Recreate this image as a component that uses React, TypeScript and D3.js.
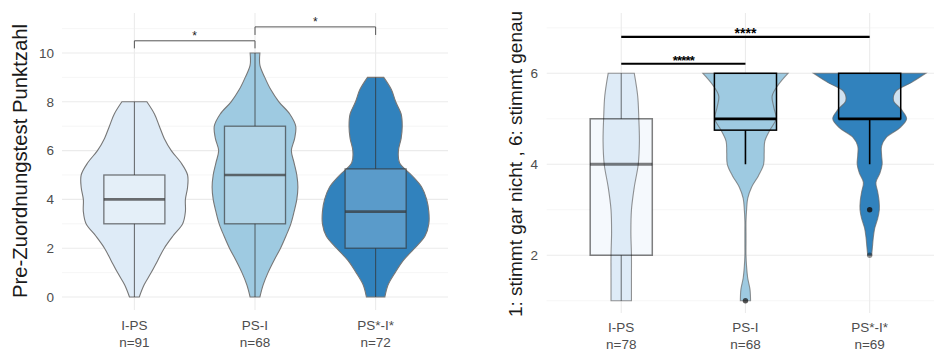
import React from "react";
import * as d3 from "d3";

const categories = ["I-PS", "PS-I", "PS*-I*"];
const fills = ["#deebf7", "#9ecae1", "#3182bd"];

// left panel: Pre-Zuordnungstest Punktzahl
const leftN = [91, 68, 72];
const leftMin = [0, 0, 0];
const leftQ1 = [3, 3, 2];
const leftMedian = [4, 5, 3.5];
const leftQ3 = [5, 7, 5.25];
const leftMax = [8, 10, 9];
const leftTicks = [0, 2, 4, 6, 8, 10];
const leftMinor = [1, 3, 5, 7, 9, 11];
// relative density, sampled every leftStep from min to max
const leftStep = [0.5, 0.5, 0.5];
const leftDensity = [
  [0.09, 0.18, 0.31, 0.43, 0.55, 0.71, 0.89, 0.94, 0.94, 0.98, 0.98, 0.86, 0.68, 0.55, 0.46, 0.37, 0.23],
  [0.09, 0.15, 0.24, 0.35, 0.47, 0.57, 0.66, 0.72, 0.77, 0.79, 0.77, 0.72, 0.67, 0.73, 0.75, 0.64, 0.44, 0.29, 0.18, 0.09, 0.09],
  [0.17, 0.23, 0.36, 0.51, 0.72, 0.91, 0.98, 0.98, 0.94, 0.85, 0.66, 0.44, 0.42, 0.47, 0.49, 0.47, 0.37, 0.29, 0.15],
];
const leftSig = [
  { from: 0, to: 1, label: "*" },
  { from: 1, to: 2, label: "*" },
];

// right panel: 1 .. 6 Likert
const rightN = [78, 68, 69];
const rightMin = [1, 4, 4];
const rightQ1 = [2, 4.75, 5];
const rightMedian = [4, 5, 5];
const rightQ3 = [5, 6, 6];
const rightMax = [6, 6, 6];
const rightViolinLo = [1, 1, 2];
const rightOutliers = [[], [1], [3, 2]];
const rightOutlierCount = [[], [2], [3, 1]];
const rightTicks = [2, 4, 6];
const rightMinor = [1, 3, 5, 7];
const rightStep = [0.5, 0.25, 0.2];
const rightDensity = [
  [0.18, 0.18, 0.18, 0.17, 0.18, 0.23, 0.3, 0.32, 0.31, 0.29, 0.23],
  [0.09, 0.08, 0.04, 0.02, 0.01, 0.01, 0.01, 0.01, 0.02, 0.04, 0.11, 0.23, 0.32, 0.33, 0.34, 0.43, 0.54, 0.5, 0.47, 0.58, 0.75],
  [0.035, 0.05, 0.065, 0.09, 0.14, 0.17, 0.165, 0.14, 0.11, 0.18, 0.22, 0.21, 0.21, 0.3, 0.53, 0.65, 0.56, 0.42, 0.46, 0.74, 0.99],
];
const rightSig = [
  { from: 0, to: 2, label: "****" },
  { from: 0, to: 1, label: "*****" },
];

const font = "'Liberation Sans', Arial, sans-serif";
const tickColor = "#4d4d4d";

function violin(dens: number[], lo: number, step: number, cx: number, y: any, w: any) {
  return d3
    .area<number>()
    .curve(d3.curveCatmullRom)
    .y((_, i) => y(lo + i * step))
    .x0((d) => cx - w(d))
    .x1((d) => cx + w(d))(dens) as string;
}

function Grid({ x, y, ticks, minor, left, right, top, bottom }: any) {
  return (
    <g>
      {minor.map((t: number) => (
        <line key={"m" + t} x1={left} x2={right} y1={y(t)} y2={y(t)} stroke="#f2f2f2" strokeWidth={0.7} />
      ))}
      {ticks.map((t: number) => (
        <line key={"t" + t} x1={left} x2={right} y1={y(t)} y2={y(t)} stroke="#ebebeb" strokeWidth={1.1} />
      ))}
      {categories.map((c) => (
        <line key={c} x1={x(c)} x2={x(c)} y1={top} y2={bottom} stroke="#ebebeb" strokeWidth={1.1} />
      ))}
    </g>
  );
}

function XLabels({ x, n, base }: any) {
  return (
    <g fontFamily={font} fontSize={13.5} fill={tickColor} textAnchor="middle">
      {categories.map((c, i) => (
        <text key={c} x={x(c)} y={base}>
          <tspan x={x(c)}>{c}</tspan>
          <tspan x={x(c)} dy={16.5}>{"n=" + n[i]}</tspan>
        </text>
      ))}
    </g>
  );
}

function LeftPanel() {
  const x = d3.scalePoint().domain(categories).range([62, 448]).padding(0.6);
  const y = d3.scaleLinear().domain([0, 10]).range([297, 53]);
  const step = x.step();
  const w = d3.scaleLinear().domain([0, 1]).range([0, step * 0.45]);
  const bw = step * 0.253;
  return (
    <g>
      <Grid x={x} y={y} ticks={leftTicks} minor={leftMinor} left={62} right={448} top={13} bottom={310} />
      {categories.map((c, i) => {
        const cx = x(c) as number;
        return (
          <g key={c}>
            <path d={violin(leftDensity[i], leftMin[i], leftStep[i], cx, y, w)} fill={fills[i]} stroke="#777" strokeWidth={1.1} />
            <line x1={cx} x2={cx} y1={y(leftQ3[i])} y2={y(leftMax[i])} stroke="#333" strokeOpacity={0.75} />
            <line x1={cx} x2={cx} y1={y(leftQ1[i])} y2={y(leftMin[i])} stroke="#333" strokeOpacity={0.75} />
            <rect x={cx - bw} width={bw * 2} y={y(leftQ3[i])} height={y(leftQ1[i]) - y(leftQ3[i])} fill="#fff" fillOpacity={0.2} stroke="#333" strokeOpacity={0.65} strokeWidth={1.3} />
            <line x1={cx - bw} x2={cx + bw} y1={y(leftMedian[i])} y2={y(leftMedian[i])} stroke="#333" strokeOpacity={0.7} strokeWidth={2.6} />
          </g>
        );
      })}
      {leftSig.map((s, k) => {
        const a = x(categories[s.from]) as number;
        const b = x(categories[s.to]) as number;
        const yy = y(10.5 + k * 0.57);
        const yt = y(10.19 + k * 0.55);
        return (
          <g key={k}>
            <path d={`M${a},${yt}V${yy}H${b}V${yt}`} fill="none" stroke="#555" strokeWidth={1} />
            <text x={(a + b) / 2} y={yy - 1} textAnchor="middle" fontFamily={font} fontSize={12} fill="#222">
              {s.label}
            </text>
          </g>
        );
      })}
      <g fontFamily={font} fontSize={13.5} fill={tickColor} textAnchor="end">
        {leftTicks.map((t) => (
          <text key={t} x={54} y={y(t)} dy="0.36em">
            {t}
          </text>
        ))}
      </g>
      <XLabels x={x} n={leftN} base={330} />
      <text transform="translate(27,161) rotate(-90)" textAnchor="middle" fontFamily={font} fontSize={20.3} fill="#1a1a1a">
        Pre-Zuordnungstest Punktzahl
      </text>
    </g>
  );
}

function RightPanel() {
  const x = d3.scalePoint().domain(categories).range([546.7, 944.2]).padding(0.6);
  const y = d3.scaleLinear().domain([1, 6]).range([300.7, 73.3]);
  const step = x.step();
  const w = d3.scaleLinear().domain([0, 1]).range([0, step * 0.457]);
  const bw = step * 0.25;
  const boxFill = ["#f5f9fd", "#9ecae1", "#cfe1f0"];
  const boxAlpha = [0.5, 1, 1];
  return (
    <g>
      <Grid x={x} y={y} ticks={rightTicks} minor={rightMinor} left={546.7} right={944} top={13} bottom={313} />
      {categories.map((c, i) => {
        const cx = x(c) as number;
        return (
          <rect key={c} x={cx - bw} width={bw * 2} y={y(rightQ3[i])} height={y(rightQ1[i]) - y(rightQ3[i])} fill={boxFill[i]} />
        );
      })}
      {categories.map((c, i) => {
        const cx = x(c) as number;
        return (
          <path key={c} d={violin(rightDensity[i], rightViolinLo[i], rightStep[i], cx, y, w)} fill={fills[i]} stroke="#666" strokeOpacity={0.7} strokeWidth={1.1} />
        );
      })}
      {categories.map((c, i) => {
        const cx = x(c) as number;
        const a = boxAlpha[i];
        return (
          <g key={c} stroke="#000" strokeOpacity={a}>
            {rightMax[i] > rightQ3[i] && <line x1={cx} x2={cx} y1={y(rightQ3[i])} y2={y(rightMax[i])} strokeWidth={a < 1 ? 1.1 : 1.6} />}
            <line x1={cx} x2={cx} y1={y(rightQ1[i])} y2={y(rightMin[i])} strokeWidth={a < 1 ? 1.1 : 1.6} />
            <rect x={cx - bw} width={bw * 2} y={y(rightQ3[i])} height={y(rightQ1[i]) - y(rightQ3[i])} fill="none" strokeWidth={1.5} />
            <line x1={cx - bw} x2={cx + bw} y1={y(rightMedian[i])} y2={y(rightMedian[i])} strokeWidth={2.8} />
            {rightOutliers[i].map((o, k) => (
              <circle key={k} cx={cx} cy={y(o)} r={2.7} fill="#111" stroke="none" fillOpacity={1 - Math.pow(0.55, rightOutlierCount[i][k])} />
            ))}
          </g>
        );
      })}
      {rightSig.map((s, k) => {
        const a = x(categories[s.from]) as number;
        const b = x(categories[s.to]) as number;
        const yy = y(k === 0 ? 6.8 : 6.21);
        return (
          <g key={k}>
            <line x1={a} x2={b} y1={yy} y2={yy} stroke="#000" strokeWidth={k === 0 ? 2.2 : 1.8} />
            <text x={(a + b) / 2} y={yy + 1.5} textAnchor="middle" fontFamily={font} fontWeight="bold" fontSize={k === 0 ? 14 : 13} letterSpacing={k === 0 ? 0 : -0.8} fill="#000">
              {s.label}
            </text>
          </g>
        );
      })}
      <g fontFamily={font} fontSize={13.5} fill={tickColor} textAnchor="end">
        {rightTicks.map((t) => (
          <text key={t} x={538} y={y(t)} dy="0.36em">
            {t}
          </text>
        ))}
      </g>
      <XLabels x={x} n={rightN} base={332} />
      <text transform="translate(522,164) rotate(-90)" textAnchor="middle" fontFamily={font} fontSize={19} fill="#1a1a1a">
        1: stimmt gar nicht , 6: stimmt genau
      </text>
    </g>
  );
}

export default function App() {
  return (
    <svg width={934} height={351} style={{ position: "absolute", left: 0, top: 0, background: "#fff" }}>
      <rect width={934} height={351} fill="#fff" />
      <LeftPanel />
      <RightPanel />
    </svg>
  );
}
